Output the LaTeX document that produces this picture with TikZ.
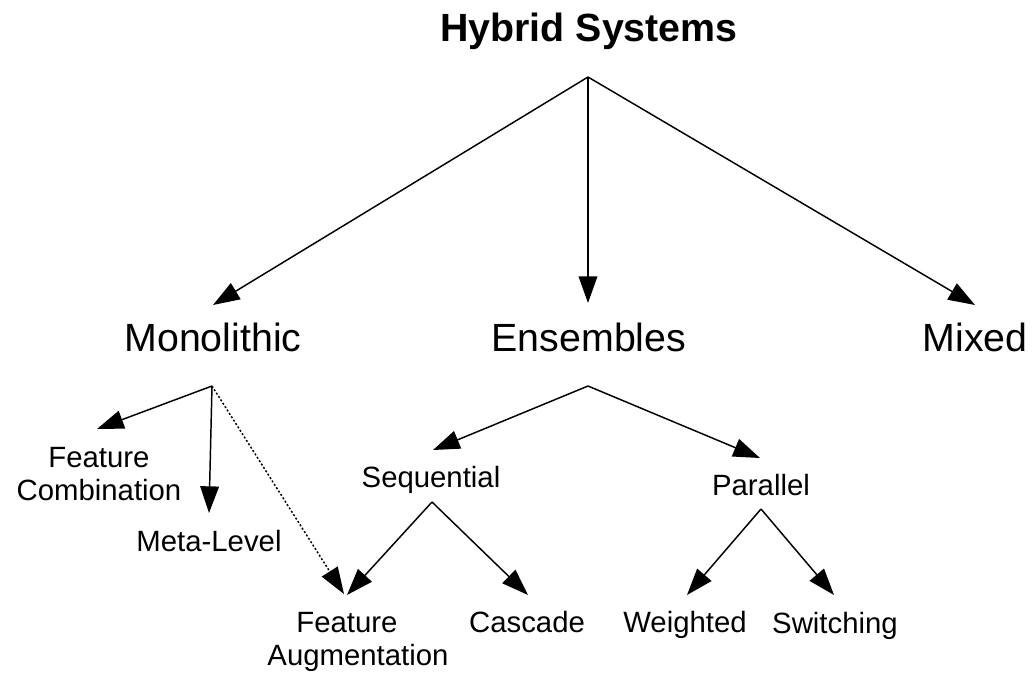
\documentclass[tikz,border=0pt]{standalone}
\usepackage{fontspec}
\setmainfont{Liberation Sans}
\usetikzlibrary{arrows.meta}
\begin{document}
\begin{tikzpicture}[x=0.75pt,y=-0.75pt,
  conn/.style={draw=black,line width=1.1pt,-{Triangle[length=20pt,width=14pt]}},
  dotconn/.style={conn,dash pattern=on 1.5pt off 1.5pt},
  big/.style={inner sep=0pt,anchor=base,font=\fontsize{29.5}{34}\selectfont},
  small/.style={inner sep=0pt,anchor=base,align=center,font=\fontsize{22}{24.5}\selectfont}]
\useasboundingbox[fill=white] (0,0) rectangle (1035,675);
% labels
\node[big,font=\fontsize{29.5}{34}\selectfont\bfseries] (hs) at (589,41) {Hybrid Systems};
\node[big] (mono) at (213,351) {Monolithic};
\node[big] (ens) at (589,351) {Ensembles};
\node[big] (mix) at (975,351) {Mixed};
\node[small] (fc) at (99,500) {Feature\\Combination};
\node[small] (ml) at (209,551) {Meta-Level};
\node[small] (seq) at (431,487) {Sequential};
\node[small] (par) at (761,495) {Parallel};
\node[small] (fa) at (358,665) {Feature\hspace*{16.5pt}\\Augmentation};
\node[small] (cas) at (527,632) {Cascade};
\node[small] (wei) at (685,632) {Weighted};
\node[small] (swi) at (835,633) {Switching};
% connector points
\coordinate (T) at (588,77);
\coordinate (tm) at (213,305);
\coordinate (te) at (588,303);
\coordinate (tx) at (975,305);
\coordinate (M) at (212,386);
\coordinate (tfc) at (97,429);
\coordinate (tml) at (209,513);
\coordinate (tfa1) at (344,594);
\coordinate (E) at (588,386);
\coordinate (tsq) at (433,450);
\coordinate (tpa) at (760,458);
\coordinate (S) at (432,502);
\coordinate (tfa2) at (347,595);
\coordinate (tca) at (528,595);
\coordinate (P) at (761,509);
\coordinate (twe) at (687,595);
\coordinate (tsw) at (834,595);
% connectors
\draw[conn] (T) -- (tm);
\draw[conn] (T) -- (te);
\draw[conn] (T) -- (tx);
\draw[conn] (M) -- (tfc);
\draw[conn] (M) -- (tml);
\draw[dotconn] (M) -- (tfa1);
\draw[conn] (E) -- (tsq);
\draw[conn] (E) -- (tpa);
\draw[conn] (S) -- (tfa2);
\draw[conn] (S) -- (tca);
\draw[conn] (P) -- (twe);
\draw[conn] (P) -- (tsw);
\end{tikzpicture}
\end{document}
